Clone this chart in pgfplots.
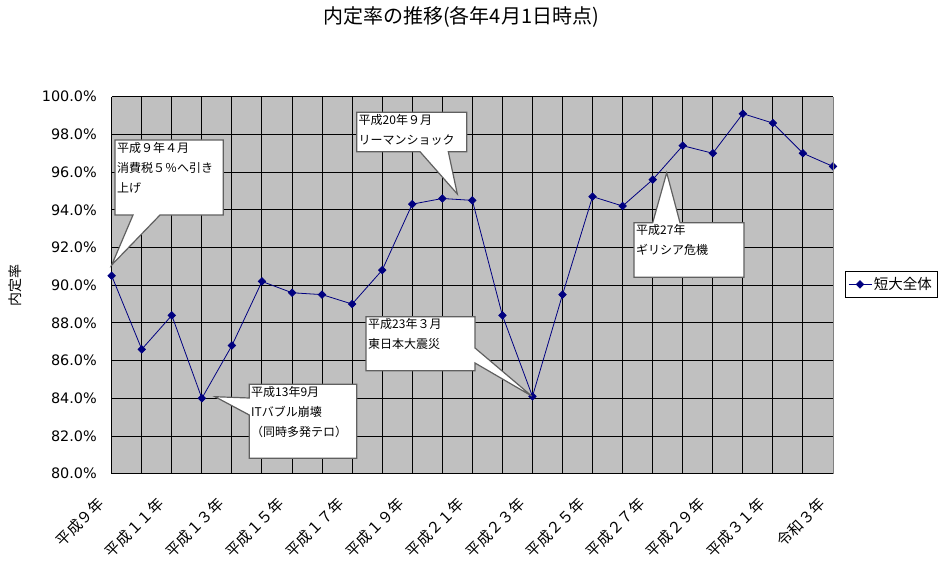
\documentclass[border=0pt]{standalone}
\usepackage{fontspec}
\usepackage{pgfplots}
\pgfplotsset{compat=1.18}
\setmainfont{Noto Sans CJK JP}
\newfontfamily\tickfont{DejaVu Sans}
\definecolor{navy}{RGB}{0,0,128}
\definecolor{plotgray}{RGB}{192,192,192}
\definecolor{bordergray}{RGB}{128,128,128}
\definecolor{calloutline}{RGB}{96,96,96}

\pgfplotstableread{
yr  rate
0   90.5
1   86.6
2   88.4
3   84.0
4   86.8
5   90.2
6   89.6
7   89.5
8   89.0
9   90.8
10  94.3
11  94.6
12  94.5
13  88.4
14  84.1
15  89.5
16  94.7
17  94.2
18  95.6
19  97.4
20  97.0
21  99.1
22  98.6
23  97.0
24  96.3
}\naiteitable

\begin{document}
\begin{tikzpicture}
\begin{axis}[
    at={(0pt,0pt)}, anchor=south west,
    width=721.3pt, height=377pt, scale only axis,
    xmin=0, xmax=24, ymin=80, ymax=100,
    clip=false,
    xtick={0,2,...,24},
    minor xtick={1,3,...,23},
    xticklabels={平成９年,平成１１年,平成１３年,平成１５年,平成１７年,平成１９年,
        平成２１年,平成２３年,平成２５年,平成２７年,平成２９年,平成３１年,令和３年},
    ytick={80,82,...,100},
    yticklabel={\pgfmathprintnumber[fixed,fixed zerofill,precision=1,assume math mode=true]{\tick}\%},
    yticklabel style={font=\tickfont\fontsize{14.4}{16}\selectfont, anchor=east, inner sep=0pt, xshift=-14.7pt},
    xticklabel style={font=\fontsize{15}{17}\selectfont, inner sep=0pt, xshift=-10.7pt, yshift=-27.3pt, rotate=45, anchor=east},
    major tick length=0pt, minor tick length=0pt,
    grid=both,
    grid style={black, line width=1pt},
    axis background/.style={fill=plotgray},
    axis x line*=bottom, axis y line*=left,
    axis line style={black, line width=1.3pt},
    title={内定率の推移(各年4月1日時点)},
    title style={at={(0.4843,1.1968)}, anchor=center, font=\fontsize{20}{24}\selectfont},
    ylabel={内定率},
    ylabel style={at={(-0.134,0.498)}, anchor=center, font=\fontsize{14}{16}\selectfont},
    legend style={at={(1.0804,0.502)}, anchor=center, draw=black, line width=0.8pt,
        font=\fontsize{14.5}{17}\selectfont, inner xsep=3pt, inner ysep=4pt},
    legend image code/.code={\draw[#1, mark repeat=2, mark phase=2]
        plot coordinates {(0pt,0pt) (11.5pt,0pt) (23pt,0pt)};},
]
\addplot[navy, line width=0.8pt, mark=square*, mark size=2.6pt,
    mark options={rotate=45, fill=navy, solid}] table[x=yr, y=rate] {\naiteitable};
\addlegendentry{短大全体}
\end{axis}

% annotations in pixel coordinates of the reference
\begin{scope}[x=1pt, y=-1pt, shift={(-111.7pt,473.7pt)}]
  \draw[bordergray, line width=1pt] (833,96.7) -- (833,473.7);
  \tikzset{callout/.style={fill=white, draw=calloutline, line width=1.2pt, line join=miter},
           ctext/.style={anchor=north west, inner sep=0pt, align=left,
               font=\fontsize{12}{20}\selectfont}}
  % 平成9年
  \draw[callout] (115,140) -- (223.3,140) -- (223.3,215) -- (160,215) -- (111.7,265)
      -- (133,215) -- (115,215) -- cycle;
  \node[ctext] at (117,142) {平成９年４月\\消費税５％へ引き\\上げ};
  % 平成13年
  \draw[callout] (249.3,384.3) -- (356.7,384.3) -- (356.7,458.3) -- (249.3,458.3)
      -- (249.3,415) -- (215,396.7) -- (249.3,398) -- cycle;
  \node[ctext] at (251,386) {平成13年9月\\ITバブル崩壊\\（同時多発テロ）};
  % 平成20年
  \draw[callout] (356.7,112.3) -- (466.7,112.3) -- (466.7,151.7) -- (448.3,151.7)
      -- (457.3,194) -- (420,151.7) -- (356.7,151.7) -- cycle;
  \node[ctext] at (358.5,114) {平成20年９月\\リーマンショック};
  % 平成23年
  \draw[callout] (366,316.7) -- (475,316.7) -- (475,348) -- (531.7,396) -- (475,363)
      -- (475,370.7) -- (366,370.7) -- cycle;
  \node[ctext] at (368,318.5) {平成23年３月\\東日本大震災};
  % 平成27年
  \draw[callout] (634,222.7) -- (652.7,222.7) -- (666.7,172.7) -- (680,222.7)
      -- (744,222.7) -- (744,277.3) -- (634,277.3) -- cycle;
  \node[ctext] at (636,224.5) {平成27年\\ギリシア危機};
  \pgfresetboundingbox
  \path[use as bounding box] (0,0) rectangle (949,571);
\end{scope}
\end{tikzpicture}
\end{document}
